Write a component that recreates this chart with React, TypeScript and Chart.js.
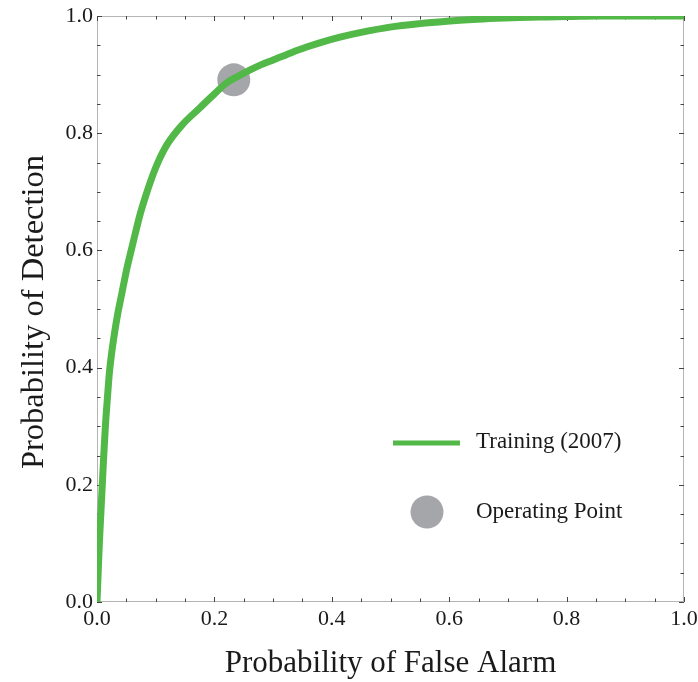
import React, { useEffect, useRef } from "react";
import { Chart, registerables } from "chart.js";

Chart.register(...registerables);

// ROC curve: false alarm probability (x) vs detection probability (y)
const falseAlarm = [
  0.0, 0.002, 0.004, 0.0065, 0.009, 0.0115, 0.0143, 0.0175, 0.021, 0.025, 0.03, 0.035, 0.042,
  0.05, 0.057, 0.065, 0.073, 0.082, 0.092, 0.102, 0.119, 0.144, 0.175, 0.201, 0.221,
  0.24, 0.261, 0.28, 0.3, 0.33, 0.357, 0.385, 0.414, 0.45, 0.499, 0.55, 0.596, 0.64,
  0.681, 0.72, 0.766, 0.81, 0.851, 0.9, 0.95, 1.0,
];
const detection = [
  0.0, 0.05, 0.1, 0.15, 0.2, 0.25, 0.3, 0.345, 0.39, 0.425, 0.46, 0.49, 0.525,
  0.565, 0.595, 0.628, 0.66, 0.69, 0.72, 0.746, 0.78, 0.813, 0.843, 0.868, 0.886,
  0.897, 0.908, 0.917, 0.925, 0.937, 0.947, 0.956, 0.964, 0.972, 0.981, 0.987, 0.991, 0.994,
  0.996, 0.9975, 0.9985, 0.9993, 1.0, 1.0, 1.0, 1.0,
];
const operatingPoint = { x: 0.233, y: 0.891 };
const tickValues = [0, 0.2, 0.4, 0.6, 0.8, 1.0];
const seriesName = "Training (2007)";
const pointName = "Operating Point";
const xTitle = "Probability of False Alarm";
const yTitle = "Probability of Detection";

const FONT = '"Liberation Serif", "Times New Roman", serif';
const GREEN = "#52b847";
const GRAY = "rgba(140, 141, 146, 0.78)";

const framePlugin = {
  id: "frameTicks",
  beforeDatasetsDraw(chart: any) {
    const { ctx, chartArea } = chart;
    const xs = chart.scales.x;
    const ys = chart.scales.y;
    const { left, right, top, bottom } = chartArea;
    ctx.save();
    ctx.strokeStyle = "#b5b5b5";
    ctx.lineWidth = 1;
    ctx.strokeRect(left + 0.5, top + 0.5, right - left - 1, bottom - top - 1);
    ctx.strokeStyle = "#444";
    for (let i = 0; i <= 20; i++) {
      const v = i * 0.05;
      const major = i % 4 === 0;
      const len = major ? 5 : 3.5;
      const px = Math.round(xs.getPixelForValue(v)) + 0.5;
      const py = Math.round(ys.getPixelForValue(v)) + 0.5;
      ctx.beginPath();
      ctx.moveTo(px, bottom);
      ctx.lineTo(px, bottom - len);
      ctx.moveTo(px, top);
      ctx.lineTo(px, top + len);
      ctx.moveTo(left, py);
      ctx.lineTo(left + len, py);
      ctx.moveTo(right, py);
      ctx.lineTo(right - len, py);
      ctx.stroke();
    }
    ctx.restore();
  },
  afterDraw(chart: any) {
    const { ctx, chartArea } = chart;
    ctx.save();
    ctx.fillStyle = "#1a1a1a";
    ctx.textAlign = "center";
    ctx.textBaseline = "middle";
    ctx.font = `31px ${FONT}`;
    ctx.fillText(xTitle, (chartArea.left + chartArea.right) / 2, 664);
    ctx.save();
    ctx.font = `32.5px ${FONT}`;
    ctx.translate(34, 312);
    ctx.rotate(-Math.PI / 2);
    ctx.fillText(yTitle, 0, 0);
    ctx.restore();

    // legend
    ctx.strokeStyle = GREEN;
    ctx.lineWidth = 5;
    ctx.beginPath();
    ctx.moveTo(393, 443);
    ctx.lineTo(460, 443);
    ctx.stroke();
    ctx.fillStyle = GRAY;
    ctx.beginPath();
    ctx.arc(427, 512, 16.5, 0, Math.PI * 2);
    ctx.fill();
    ctx.fillStyle = "#1a1a1a";
    ctx.font = `23px ${FONT}`;
    ctx.textAlign = "left";
    ctx.fillText(seriesName, 476, 442);
    ctx.fillText(pointName, 476, 512);
    ctx.restore();
  },
};

export default function App() {
  const ref = useRef<HTMLCanvasElement>(null);
  useEffect(() => {
    const canvas = ref.current!;
    const curve = falseAlarm.map((x, i) => ({ x, y: detection[i] }));
    const chart = new Chart(canvas, {
      type: "scatter",
      data: {
        datasets: [
          {
            label: seriesName,
            data: curve,
            showLine: true,
            borderColor: GREEN,
            borderWidth: 7,
            pointRadius: 0,
            cubicInterpolationMode: "monotone",
            borderCapStyle: "square",
            borderJoinStyle: "round",
          } as any,
          {
            label: pointName,
            data: [operatingPoint],
            pointRadius: 16.5,
            pointBackgroundColor: GRAY,
            pointBorderWidth: 0,
            borderWidth: 0,
          } as any,
        ],
      },
      plugins: [framePlugin],
      options: {
        responsive: false,
        animation: false,
        layout: { autoPadding: false, padding: { top: 16, right: 14, left: 0, bottom: 0 } },
        plugins: { legend: { display: false }, tooltip: { enabled: false } },
        scales: {
          x: {
            type: "linear",
            min: 0,
            max: 1,
            afterFit: (s: any) => {
              s.height = 80;
              s.paddingLeft = 0;
              s.paddingRight = 0;
            },
            afterBuildTicks: (s: any) => { s.ticks = tickValues.map((v) => ({ value: v })); },
            grid: { display: false, drawTicks: false },
            border: { display: false },
            ticks: {
              padding: 4,
              color: "#1a1a1a",
              font: { family: FONT, size: 22 },
              maxRotation: 0,
              callback: (v: any) => Number(v).toFixed(1),
            },
          },
          y: {
            type: "linear",
            min: 0,
            max: 1,
            afterFit: (s: any) => {
              s.width = 97;
              s.paddingTop = 0;
              s.paddingBottom = 0;
            },
            afterBuildTicks: (s: any) => { s.ticks = tickValues.map((v) => ({ value: v })); },
            grid: { display: false, drawTicks: false },
            border: { display: false },
            ticks: {
              padding: 4,
              color: "#1a1a1a",
              font: { family: FONT, size: 22 },
              callback: (v: any) => Number(v).toFixed(1),
            },
          },
        },
      } as any,
    });
    return () => chart.destroy();
  }, []);
  return (
    <div style={{ position: "fixed", left: 0, top: 0, width: 698, height: 682, background: "#fff" }}>
      <canvas ref={ref} width={698} height={682} style={{ display: "block" }} />
    </div>
  );
}
